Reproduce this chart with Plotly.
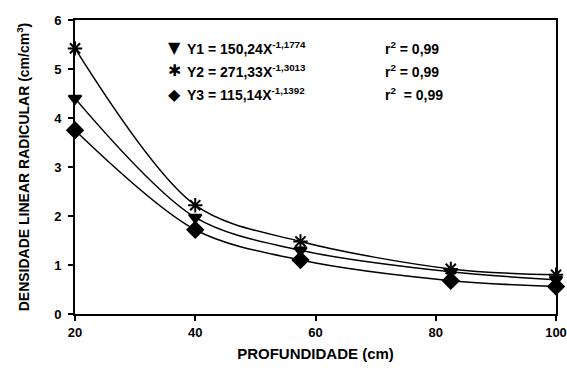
import plotly.graph_objects as go

depth = [20, 40, 57.5, 82.5, 100]
y1 = [4.40, 1.97, 1.30, 0.86, 0.70]
y2 = [5.42, 2.22, 1.48, 0.92, 0.80]
y3 = [3.75, 1.72, 1.10, 0.68, 0.56]

eq_labels = ["Y1 = 150,24X<sup>-1,1774</sup>",
             "Y2 = 271,33X<sup>-1,3013</sup>",
             "Y3 = 115,14X<sup>-1,1392</sup>"]
eq_symbols = ["▼", "✱", "◆"]
r2_labels = ["r<sup>2</sup> = 0,99", "r<sup>2</sup> = 0,99", "r<sup>2</sup>  = 0,99"]

x_ticks = [20, 40, 60, 80, 100]
y_ticks = [0, 1, 2, 3, 4, 5, 6]

FONT = "Liberation Sans, Arial, sans-serif"

fig = go.Figure()
series = [(y1, "triangle-down", 11), (y2, "asterisk-open", 12), (y3, "diamond", 12)]
for ys, sym, sz in series:
    fig.add_trace(go.Scatter(
        x=depth, y=ys, mode="lines+markers",
        line=dict(color="black", width=1.5, shape="spline", smoothing=0.9),
        marker=dict(symbol=sym, size=sz, color="black",
                    line=dict(color="black", width=2)),
        showlegend=False, cliponaxis=False))

ys_paper = [0.905, 0.827, 0.748]
for i in range(3):
    fig.add_annotation(xref="paper", yref="paper", x=0.207, y=ys_paper[i],
                       xanchor="center", yanchor="middle", showarrow=False,
                       text=eq_symbols[i], font=dict(size=16, color="black", family="DejaVu Sans"))
    fig.add_annotation(xref="paper", yref="paper", x=0.228, y=ys_paper[i],
                       xanchor="left", yanchor="middle", showarrow=False,
                       text="<b>" + eq_labels[i] + "</b>", font=dict(size=14, color="black", family=FONT))
    fig.add_annotation(xref="paper", yref="paper", x=0.64, y=ys_paper[i],
                       xanchor="left", yanchor="middle", showarrow=False,
                       text="<b>" + r2_labels[i] + "</b>", font=dict(size=14, color="black", family=FONT))

fig.update_layout(
    width=567, height=380,
    margin=dict(l=75, r=11, t=20, b=66),
    paper_bgcolor="white", plot_bgcolor="white",
    font=dict(family=FONT, color="black", size=13),
    xaxis=dict(range=[20, 100], tickvals=x_ticks, ticktext=[f"<b>{v}</b>" for v in x_ticks],
               automargin=False,
               showgrid=False, zeroline=False, showline=True, linecolor="black", linewidth=2,
               mirror=True, ticks="outside", ticklen=5, tickwidth=1.5, tickcolor="black",
               title=dict(text="<b>PROFUNDIDADE (cm)</b>", font=dict(size=15), standoff=10)),
    yaxis=dict(range=[0, 6], tickvals=y_ticks, ticktext=[f"<b>{v}</b>" for v in y_ticks],
               automargin=False,
               showgrid=False, zeroline=False, showline=True, linecolor="black", linewidth=2,
               mirror=True, ticks="outside", ticklen=5, tickwidth=1.5, tickcolor="black",
               ticklabelstandoff=4,
               title=dict(text="<b>DENSIDADE LINEAR RADICULAR (cm/cm<sup>3</sup>)</b>",
                          font=dict(size=14), standoff=21)),
)

fig.write_html("out.html", config={"displayModeBar": False},
               post_script="document.body.style.margin='0';document.body.style.overflow='hidden';")
